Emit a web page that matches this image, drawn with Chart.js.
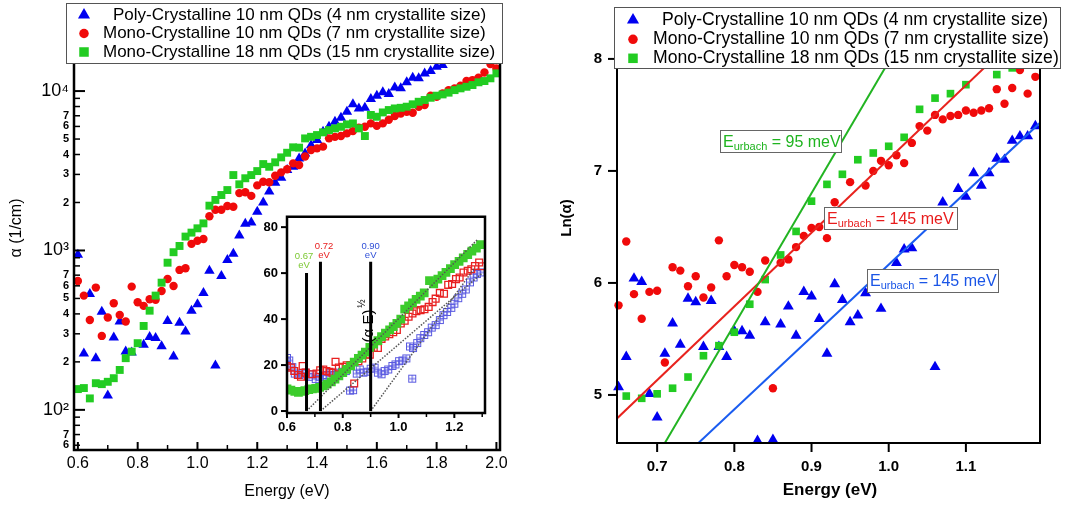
<!DOCTYPE html>
<html lang="en">
<head>
<meta charset="utf-8">
<title>Absorption edge of the QDs</title>
<script src="https://cdn.jsdelivr.net/npm/chart.js"></script>
<style>
    html, body { margin: 0; padding: 0; background: #fff; }
    #painel { position: relative; width: 1073px; height: 508px; overflow: hidden; }
    canvas { position: absolute; top: 0; }
    #graficoLog { left: 0; }
    #graficoLn { left: 540px; }
    #graficoInset { left: 240px; top: 200px; }
</style>
</head>
<body>
<div id="painel">
    <canvas id="graficoLog" width="540" height="508"></canvas>
    <canvas id="graficoLn" width="533" height="508"></canvas>
    <canvas id="graficoInset" width="255" height="250"></canvas>
</div>
<script>
const FONTE = "'Liberation Sans', Arial, Helvetica, sans-serif";

const AZUL = "#0000f0";
const VERMELHO = "#f00a0a";
const VERDE = "#22cc22";

const legendaTextos = [
    "Poly-Crystalline 10 nm QDs (4 nm crystallite size)",
    "Mono-Crystalline 10 nm QDs (7 nm crystallite size)",
    "Mono-Crystalline 18 nm QDs (15 nm crystallite size)"
];

// painel da esquerda: alfa (1/cm) em escala log
const energiaPoly = [
    0.60, 0.62, 0.64, 0.66, 0.68, 0.70, 0.72, 0.74, 0.76, 0.78,
    0.82, 0.84, 0.86, 0.88, 0.90, 0.92, 0.94, 0.96, 0.98, 1.00,
    1.02, 1.04, 1.06, 1.08, 1.10, 1.12, 1.14, 1.16, 1.18, 1.20,
    1.22, 1.24, 1.26, 1.28, 1.30, 1.32, 1.34, 1.36, 1.38, 1.40,
    1.42, 1.44, 1.46, 1.48, 1.50, 1.52, 1.54, 1.56, 1.58, 1.60,
    1.62, 1.64, 1.66, 1.68, 1.70, 1.72, 1.74, 1.76, 1.78, 1.80, 1.82
];
const alfaPoly = [
    940, 226, 533, 211, 413, 123, 284, 358, 232, 229,
    256, 286, 282, 251, 361, 216, 352, 310, 419, 460,
    540, 746, 190, 692, 871, 955, 1240, 1470, 1500, 1750,
    2000, 2340, 2660, 2860, 3200, 3350, 3780, 4060, 4580, 4930,
    5560, 5970, 6430, 6810, 7410, 8260, 7780, 7850, 8910, 9330,
    9820, 9600, 10540, 10400, 11350, 12100, 12020, 12910, 13340, 14190, 14550
];

const energiaMono = [
    0.60, 0.62, 0.64, 0.66, 0.68, 0.70, 0.72, 0.74, 0.76, 0.78,
    0.80, 0.82, 0.84, 0.86, 0.88, 0.90, 0.92, 0.94, 0.96, 0.98,
    1.00, 1.02, 1.04, 1.06, 1.08, 1.10, 1.12, 1.14, 1.16, 1.18,
    1.20, 1.22, 1.24, 1.26, 1.28, 1.30, 1.32, 1.34, 1.36, 1.38,
    1.40, 1.42, 1.44, 1.46, 1.48, 1.50, 1.52, 1.54, 1.56, 1.58,
    1.60, 1.62, 1.64, 1.66, 1.68, 1.70, 1.72, 1.74, 1.76, 1.78,
    1.80, 1.82, 1.84, 1.86, 1.88, 1.90, 1.92, 1.94, 1.96, 1.98, 2.00
];
const alfaMono10 = [
    644, 521, 366, 585, 291, 380, 467, 394, 358, 593,
    473, 449, 494, 490, 557, 662, 598, 755, 773, 1100,
    1150, 1180, 1640, 1800, 1800, 1900, 1880, 2290, 2320, 2200,
    2560, 2700, 2680, 2940, 3090, 3230, 3520, 3440, 3890, 4270,
    4370, 4480, 5050, 5160, 5220, 5430, 5610, 5890, 5970, 6270,
    6050, 6270, 6610, 6970, 7240, 7410, 7310, 7980, 8170, 9350,
    9200, 9660, 10140, 10400, 10790, 11560, 11720, 12110, 13090, 14760, 13870
];
const alfaMono18 = [
    135, 137, 118, 147, 145, 150, 158, 178, 211, 232,
    262, 336, 419, 521, 628, 838, 975, 1067, 1222, 1294,
    1377, 1479, 1910, 2075, 2228, 2393, 2972, 2600, 2838, 2972,
    3148, 3483, 3350, 3573, 3837, 4102, 4436, 4416, 5047, 5164,
    5297, 5508, 5689, 5834, 5970, 6180, 6266, 5834, 5224, 7079,
    6902, 7345, 7603, 7780, 7852, 7980, 8260, 8570, 8790, 9078,
    9354, 9528, 9772, 10139, 10399, 10641, 10914, 11350, 11561, 12023, 12912
];

const ticksAlfa = [60, 70, 80, 90, 100, 200, 300, 400, 500, 600, 700, 800, 900,
    1000, 2000, 3000, 4000, 5000, 6000, 7000, 8000, 9000, 10000];
const decadas = { 100: "10²", 1000: "10³", 10000: "10⁴" };
const ticksEnergiaEsq = [0.6, 0.8, 1.0, 1.2, 1.4, 1.6, 1.8, 2.0];
const ticksEnergiaEsqMenor = [0.7, 0.9, 1.1, 1.3, 1.5, 1.7, 1.9];

// detalhe: (alfa*E)^1/2
const insetEnergiaVerde = [
    0.600, 0.614, 0.628, 0.641, 0.653, 0.664, 0.678, 0.691, 0.703, 0.717,
    0.730, 0.744, 0.759, 0.772, 0.786, 0.800, 0.814, 0.828, 0.841, 0.856,
    0.869, 0.881, 0.897, 0.911, 0.926, 0.939, 0.953, 0.968, 0.981, 0.994,
    1.008, 1.022, 1.036, 1.050, 1.063, 1.078, 1.092, 1.111, 1.126, 1.141,
    1.156, 1.170, 1.186, 1.201, 1.217, 1.232, 1.248, 1.263, 1.279, 1.294
];
const insetVerde = [
    9.6, 9.1, 8.6, 8.1, 8.6, 8.9, 9.3, 9.6, 9.9, 10.3,
    10.9, 11.7, 12.7, 13.9, 15.3, 16.7, 18.1, 19.6, 21.3, 22.9,
    24.3, 25.6, 27.7, 29.1, 30.6, 32.4, 33.9, 35.3, 36.7, 38.1,
    40.0, 44.3, 45.7, 47.1, 48.6, 50.0, 51.4, 56.7, 55.3, 57.4,
    58.9, 60.3, 62.0, 63.7, 65.1, 66.6, 68.1, 69.6, 70.9, 72.4
];
const insetEnergiaVermelho = [
    0.600, 0.614, 0.626, 0.639, 0.650, 0.656, 0.667, 0.689, 0.706, 0.719,
    0.730, 0.741, 0.752, 0.763, 0.774, 0.786, 0.800, 0.814, 0.828, 0.841,
    0.856, 0.870, 0.883, 0.897, 0.911, 0.926, 0.939, 0.952, 0.967, 0.981,
    0.994, 1.008, 1.022, 1.036, 1.050, 1.064, 1.079, 1.093, 1.108, 1.122,
    1.133, 1.148, 1.163, 1.178, 1.192, 1.206, 1.219, 1.233, 1.248, 1.261,
    1.274, 1.289, 1.300
];
const insetVermelho = [
    19.6, 18.9, 17.4, 15.7, 14.9, 19.6, 16.7, 16.0, 16.3, 17.7,
    18.1, 17.4, 17.1, 16.7, 21.4, 18.9, 19.3, 19.9, 20.0, 12.0,
    21.7, 22.9, 24.6, 24.5, 27.4, 27.4, 31.4, 32.4, 33.4, 34.3,
    35.3, 38.1, 39.3, 41.0, 42.4, 43.4, 43.9, 44.3, 45.3, 47.4,
    48.9, 51.4, 51.0, 54.9, 55.3, 57.4, 58.1, 60.3, 61.0, 61.7,
    63.1, 64.6, 63.0
];
const insetEnergiaAzul = [
    0.600, 0.608, 0.619, 0.628, 0.644, 0.656, 0.667, 0.678, 0.692, 0.703,
    0.717, 0.728, 0.741, 0.756, 0.770, 0.783, 0.797, 0.811, 0.826, 0.837,
    0.850, 0.861, 0.874, 0.889, 0.900, 0.914, 0.926, 0.939, 0.950, 0.963,
    0.978, 0.989, 1.002, 1.014, 1.028, 1.041, 1.049, 1.052, 1.067, 1.078,
    1.092, 1.106, 1.119, 1.133, 1.148, 1.161, 1.174, 1.189, 1.200, 1.214,
    1.228, 1.241, 1.256, 1.269, 1.281, 1.294
];
const insetAzul = [
    23.1, 22.0, 19.1, 16.3, 15.7, 16.3, 16.7, 14.9, 16.0, 13.9,
    14.9, 13.9, 15.7, 16.7, 15.7, 16.7, 17.1, 17.4, 8.9, 9.1,
    16.3, 18.1, 16.7, 17.1, 18.4, 18.9, 16.7, 16.0, 17.4, 18.1,
    19.6, 20.3, 21.7, 22.0, 22.9, 28.1, 14.1, 27.4, 29.6, 31.7,
    33.1, 34.3, 36.3, 37.4, 39.6, 41.7, 43.1, 44.9, 46.7, 49.1,
    51.0, 52.9, 56.0, 58.1, 59.6, 60.3
];
const gapEnergias = [0.67, 0.72, 0.90];
const gapAlturas = [60, 65, 65];
const gapRotulos = ["0.67", "0.72", "0.90"];
const tangenteVerdeE = [0.67, 1.283];
const tangenteVerdeV = [0, 74.6];
const tangenteVermelhoE = [0.72, 1.30];
const tangenteVermelhoV = [0, 60];
const tangenteAzulE = [0.90, 1.27];
const tangenteAzulV = [0, 61.8];
const ticksInsetX = [0.6, 0.8, 1.0, 1.2];
const ticksInsetXMenor = [0.7, 0.9, 1.1, 1.3];
const ticksInsetY = [0, 20, 40, 60, 80];

// painel da direita: Ln(alfa) e ajustes de Urbach
const energiaLn = [
    0.65, 0.66, 0.67, 0.68, 0.69, 0.70, 0.71, 0.72, 0.73, 0.74,
    0.75, 0.76, 0.77, 0.78, 0.79, 0.80, 0.81, 0.82, 0.83, 0.84,
    0.85, 0.86, 0.87, 0.88, 0.89, 0.90, 0.91, 0.92, 0.93, 0.94,
    0.95, 0.96, 0.97, 0.98, 0.99, 1.00, 1.01, 1.02, 1.03, 1.04,
    1.05, 1.06, 1.07, 1.08, 1.09, 1.10, 1.11, 1.12, 1.13, 1.14,
    1.15, 1.16, 1.17, 1.18, 1.19
];
const lnPoly = [
    5.07, 5.34, 6.04, 6.01, 5.01, 4.80, 5.37, 5.64, 5.45, 5.86,
    5.83, 5.43, 5.84, 5.43, 5.34, 5.57, 5.57, 5.53, 4.59, 5.65,
    4.60, 5.63, 5.79, 5.53, 5.92, 5.88, 5.68, 5.37, 5.99, 5.85,
    5.65, 5.71, 5.91, null, 5.77, null, 6.18, 6.30, 6.31, null,
    null, 5.25, 6.72, null, 6.84, 6.77, 6.98, 6.87, 6.98, 7.11,
    7.10, 7.27, 7.31, 7.31, 7.40
];
const lnMono10 = [
    5.80, 6.37, 5.90, 5.68, 5.92, 5.93, 5.29, 6.14, 6.11, 5.97,
    6.06, 5.87, 5.96, 6.38, 6.06, 6.16, 6.14, 6.10, 5.92, 6.20,
    5.06, 6.18, 6.21, 6.32, 6.42, 6.49, 6.50, 6.40, 6.72, null,
    6.90, null, 6.87, 7.00, 7.09, 7.05, 7.14, 7.07, 7.25, 7.40,
    7.36, 7.50, 7.46, 7.49, 7.50, 7.54, 7.52, 7.54, 7.56, 7.73,
    7.60, 7.74, 7.90, 7.69, 7.84
];
const energiaLnMono18 = [
    0.66, 0.68, 0.70, 0.72, 0.74, 0.76, 0.78, 0.80, 0.82, 0.84,
    0.86, 0.88, 0.90, 0.92, 0.94, 0.96, 0.98, 1.00, 1.02, 1.04,
    1.06, 1.08, 1.10, 1.14, 1.16
];
const lnMono18 = [
    4.99, 4.97, 5.01, 5.06, 5.16, 5.35, 5.44, 5.56, 5.81, 6.03,
    6.25, 6.46, 6.73, 6.88, 6.97, 7.10, 7.16, 7.22, 7.30, 7.55,
    7.65, 7.69, 7.77, 7.86, 7.92
];
const ajusteVerdeE = [0.710, 1.02];
const ajusteVerdeLn = [4.571, 8.21];
const ajusteVermelhoE = [0.648, 1.196];
const ajusteVermelhoLn = [4.79, 8.396];
const ajusteAzulE = [0.7535, 1.196];
const ajusteAzulLn = [4.571, 7.43];
const ticksEnergiaDir = [0.7, 0.8, 0.9, 1.0, 1.1];
const ticksLn = [5, 6, 7, 8];


function pontos(xs, ys) {
    return xs
        .map((x, i) => ({ x, y: ys[i] }))
        .filter(p => p.y !== null);
}


function fixarTicks(valores) {
    return escala => {
        escala.ticks = valores.map(v => ({ value: v }));
    };
}


function desenharMarcador(ctx, forma, x, y, cor, r) {
    ctx.fillStyle = cor;
    ctx.beginPath();
    if (forma === "triangle") {
        ctx.moveTo(x, y - r);
        ctx.lineTo(x + r * 0.866, y + r * 0.5);
        ctx.lineTo(x - r * 0.866, y + r * 0.5);
        ctx.closePath();
    } else if (forma === "circle") {
        ctx.arc(x, y, r * 0.68, 0, Math.PI * 2);
    } else {
        const s = r * 0.68;
        ctx.rect(x - s, y - s, 2 * s, 2 * s);
    }
    ctx.fill();
}


function criarQuadradoCruz(cor) {
    const c = document.createElement("canvas");
    c.width = 10;
    c.height = 10;
    const g = c.getContext("2d");
    g.strokeStyle = cor;
    g.lineWidth = 1;
    g.strokeRect(1.5, 1.5, 7, 7);
    g.beginPath();
    g.moveTo(5, 1.5);
    g.lineTo(5, 8.5);
    g.moveTo(1.5, 5);
    g.lineTo(8.5, 5);
    g.stroke();
    return c;
}


// marcas dos eixos e moldura (sem a borda de cima)
const marcasPlugin = {
    id: "marcas",
    afterDraw(chart, args, o) {
        const { ctx, chartArea: area, scales } = chart;
        const sinal = o.dentro ? -1 : 1;
        ctx.save();
        ctx.strokeStyle = "#000";
        ctx.lineCap = "butt";
        (o.x || []).forEach(grupo => {
            ctx.lineWidth = grupo.largura;
            grupo.valores.forEach(v => {
                const px = scales.x.getPixelForValue(v);
                ctx.beginPath();
                ctx.moveTo(px, area.bottom);
                ctx.lineTo(px, area.bottom + sinal * grupo.comprimento);
                ctx.stroke();
            });
        });
        (o.y || []).forEach(grupo => {
            ctx.lineWidth = grupo.largura;
            grupo.valores.forEach(v => {
                const py = scales.y.getPixelForValue(v);
                ctx.beginPath();
                ctx.moveTo(area.left, py);
                ctx.lineTo(area.left - sinal * grupo.comprimento, py);
                ctx.stroke();
            });
        });
        ctx.lineWidth = o.moldura;
        ctx.beginPath();
        if (o.topo) {
            ctx.rect(area.left, area.top, area.right - area.left, area.bottom - area.top);
        } else {
            ctx.moveTo(area.left, area.top - 30);
            ctx.lineTo(area.left, area.bottom);
            ctx.lineTo(area.right, area.bottom);
            ctx.lineTo(area.right, area.top - 30);
        }
        ctx.stroke();
        ctx.restore();
    }
};


const urbachPlugin = {
    id: "urbach",
    afterDraw(chart, args, o) {
        const ctx = chart.ctx;
        (o.caixas || []).forEach(c => {
            ctx.save();
            ctx.fillStyle = "#fff";
            ctx.fillRect(c.x, c.y, c.largura, c.altura);
            ctx.strokeStyle = "#666";
            ctx.lineWidth = 1;
            ctx.strokeRect(c.x + 0.5, c.y + 0.5, c.largura, c.altura);
            ctx.fillStyle = c.cor;
            ctx.textBaseline = "alphabetic";
            const base = c.y + 17;
            let x = c.x + 3;
            ctx.font = `16px ${FONTE}`;
            ctx.fillText("E", x, base);
            x += ctx.measureText("E").width;
            ctx.font = `11px ${FONTE}`;
            ctx.fillText("urbach", x, base + 3);
            x += ctx.measureText("urbach").width;
            ctx.font = `16px ${FONTE}`;
            ctx.fillText(c.texto, x, base);
            ctx.restore();
        });
    }
};


const legendaPlugin = {
    id: "legendaCaixa",
    afterDraw(chart, args, o) {
        const ctx = chart.ctx;
        ctx.save();
        ctx.fillStyle = "#fff";
        ctx.fillRect(o.x, o.y, o.largura, o.altura);
        ctx.strokeStyle = "#555";
        ctx.lineWidth = 1;
        ctx.strokeRect(o.x + 0.5, o.y + 0.5, o.largura, o.altura);
        ctx.font = o.fonte;
        ctx.textBaseline = "middle";
        const formas = ["triangle", "circle", "rect"];
        const cores = [AZUL, VERMELHO, VERDE];
        legendaTextos.forEach((texto, i) => {
            const y = o.linhas[i];
            desenharMarcador(ctx, formas[i], o.xMarcador, y, cores[i], o.marcador);
            ctx.fillStyle = "#000";
            ctx.fillText(texto, o.xTexto[i], y);
        });
        ctx.restore();
    }
};


const titulosPlugin = {
    id: "titulos",
    afterDraw(chart, args, o) {
        const ctx = chart.ctx;
        (o.itens || []).forEach(t => {
            ctx.save();
            ctx.translate(t.x, t.y);
            if (t.girar) {
                ctx.rotate(-Math.PI / 2);
            }
            ctx.font = t.fonte;
            ctx.fillStyle = "#000";
            ctx.textAlign = "center";
            ctx.textBaseline = "middle";
            ctx.fillText(t.texto, 0, 0);
            ctx.restore();
        });
    }
};


// rótulos dentro do detalhe (gaps e título do eixo)
const rotulosInsetPlugin = {
    id: "rotulosInset",
    beforeDatasetsDraw(chart) {
        const { ctx, chartArea: a } = chart;
        ctx.save();
        ctx.fillStyle = "#fff";
        ctx.fillRect(a.left, a.top, a.right - a.left, a.bottom - a.top);
        ctx.restore();
    },
    afterDraw(chart, args, o) {
        const { ctx, scales } = chart;
        ctx.save();
        ctx.font = `9.5px ${FONTE}`;
        ctx.textAlign = "center";
        ctx.textBaseline = "middle";
        o.gaps.forEach((g, i) => {
            const x = scales.x.getPixelForValue(g.e);
            ctx.fillStyle = g.cor;
            ctx.fillText(gapRotulos[i], x, scales.y.getPixelForValue(g.v));
            ctx.fillText("eV", x, scales.y.getPixelForValue(g.v) + 9);
        });

        const x = scales.x.getPixelForValue(0.894);
        const y = scales.y.getPixelForValue(37);
        ctx.translate(x, y);
        ctx.rotate(-Math.PI / 2);
        ctx.fillStyle = "#000";
        ctx.font = `15px ${FONTE}`;
        ctx.fillText("(α E)", 0, 0);
        const w = ctx.measureText("(α E)").width;
        ctx.font = `10px ${FONTE}`;
        ctx.fillText("½", w / 2 + 6, -7);
        ctx.restore();
    }
};


function carregarGraficoLog() {
    const ctx = document.getElementById("graficoLog").getContext("2d");

    new Chart(ctx, {
        type: "scatter",
        data: {
            datasets: [
                {
                    data: pontos(energiaMono, alfaMono18),
                    pointStyle: "rect",
                    pointRadius: 5.6,
                    pointBackgroundColor: VERDE,
                    pointBorderWidth: 0
                },
                {
                    data: pontos(energiaMono, alfaMono10),
                    pointStyle: "circle",
                    pointRadius: 4.2,
                    pointBackgroundColor: VERMELHO,
                    pointBorderWidth: 0
                },
                {
                    data: pontos(energiaPoly, alfaPoly),
                    pointStyle: "triangle",
                    pointRadius: 6,
                    pointBackgroundColor: AZUL,
                    pointBorderWidth: 0
                }
            ]
        },
        options: {
            responsive: false,
            animation: false,
            devicePixelRatio: 1,
            layout: { padding: { left: 0, right: 40, top: 63, bottom: 0 } },
            plugins: {
                legend: { display: false },
                tooltip: { enabled: false },
                marcas: {
                    dentro: true,
                    moldura: 2.5,
                    topo: false,
                    x: [
                        { valores: ticksEnergiaEsq, comprimento: 8, largura: 2 },
                        { valores: ticksEnergiaEsqMenor, comprimento: 5, largura: 1.5 }
                    ],
                    y: [
                        { valores: [100, 1000, 10000], comprimento: 11, largura: 2 },
                        { valores: ticksAlfa.filter(v => !decadas[v]), comprimento: 6, largura: 1.5 }
                    ]
                },
                legendaCaixa: {
                    x: 66, y: 3, largura: 436, altura: 60,
                    fonte: `17px ${FONTE}`,
                    linhas: [15, 33.5, 52],
                    xMarcador: 84,
                    marcador: 7,
                    xTexto: [113, 103, 103]
                },
                titulos: {
                    itens: [
                        { texto: "Energy (eV)", x: 287, y: 492, fonte: `16px ${FONTE}` },
                        { texto: "α (1/cm)", x: 17, y: 228, girar: true, fonte: `16px ${FONTE}` }
                    ]
                }
            },
            scales: {
                x: {
                    type: "linear",
                    min: 0.587,
                    max: 2.012,
                    afterFit: escala => { escala.height = 58; },
                    afterBuildTicks: fixarTicks(ticksEnergiaEsq),
                    grid: { display: false, drawTicks: false },
                    border: { display: false },
                    ticks: {
                        autoSkip: false,
                        maxRotation: 0,
                        padding: 4,
                        color: "#000",
                        font: { family: FONTE, size: 16 },
                        callback: v => Number(v).toFixed(1)
                    }
                },
                y: {
                    type: "logarithmic",
                    min: 56,
                    max: 15000,
                    afterFit: escala => { escala.width = 74; },
                    afterBuildTicks: fixarTicks(ticksAlfa),
                    grid: { display: false, drawTicks: false },
                    border: { display: false },
                    ticks: {
                        autoSkip: false,
                        padding: 5,
                        color: "#000",
                        font: c => (c.tick && decadas[c.tick.value]
                            ? { family: FONTE, size: 18 }
                            : { family: FONTE, size: 11, weight: "bold" }),
                        callback: v => {
                            if (decadas[v]) {
                                return decadas[v];
                            }
                            const d = Math.round(v / Math.pow(10, Math.floor(Math.log10(v) + 1e-9)));
                            return d <= 7 ? String(d) : "";
                        }
                    }
                }
            }
        },
        plugins: [marcasPlugin, legendaPlugin, titulosPlugin]
    });
}


function carregarInset() {
    const ctx = document.getElementById("graficoInset").getContext("2d");
    const linhaPreta = (e, altura) => ({
        data: [{ x: e, y: 0 }, { x: e, y: altura }],
        showLine: true,
        borderColor: "#000",
        borderWidth: 3,
        pointRadius: 0
    });
    const pontilhada = (es, vs) => ({
        data: pontos(es, vs),
        showLine: true,
        borderColor: "#555",
        borderWidth: 1.5,
        borderDash: [1.5, 1.5],
        pointRadius: 0
    });

    new Chart(ctx, {
        type: "scatter",
        data: {
            datasets: [
                ...gapEnergias.map((e, i) => linhaPreta(e, gapAlturas[i])),
                pontilhada(tangenteVerdeE, tangenteVerdeV),
                pontilhada(tangenteVermelhoE, tangenteVermelhoV),
                pontilhada(tangenteAzulE, tangenteAzulV),
                {
                    data: pontos(insetEnergiaVerde, insetVerde),
                    pointStyle: "rect",
                    pointRadius: 6.2,
                    pointBackgroundColor: "#3ccc2c",
                    pointBorderWidth: 0
                },
                {
                    data: pontos(insetEnergiaVermelho, insetVermelho),
                    pointStyle: "rect",
                    pointRadius: 4.8,
                    pointBackgroundColor: "rgba(0,0,0,0)",
                    pointBorderColor: "#e82020",
                    pointBorderWidth: 1.3
                },
                {
                    data: pontos(insetEnergiaAzul, insetAzul),
                    pointStyle: criarQuadradoCruz("#5a5ae0"),
                    pointRadius: 5
                }
            ]
        },
        options: {
            responsive: false,
            animation: false,
            devicePixelRatio: 1,
            layout: { padding: { left: 0, right: 10, top: 12, bottom: 0 } },
            plugins: {
                legend: { display: false },
                tooltip: { enabled: false },
                marcas: {
                    dentro: false,
                    moldura: 2.5,
                    topo: true,
                    x: [
                        { valores: ticksInsetX, comprimento: 5, largura: 2 },
                        { valores: ticksInsetXMenor, comprimento: 4, largura: 1.5 }
                    ],
                    y: [
                        { valores: ticksInsetY, comprimento: 6, largura: 2 }
                    ]
                },
                rotulosInset: {
                    gaps: [
                        { e: 0.661, v: 67.4, cor: "#7cc832" },
                        { e: 0.733, v: 71.7, cor: "#e82020" },
                        { e: 0.900, v: 71.7, cor: "#3050d8" }
                    ]
                }
            },
            scales: {
                x: {
                    type: "linear",
                    min: 0.6,
                    max: 1.31,
                    afterFit: escala => { escala.height = 37; },
                    afterBuildTicks: fixarTicks(ticksInsetX),
                    grid: { display: false, drawTicks: false },
                    border: { display: false },
                    ticks: {
                        autoSkip: false,
                        maxRotation: 0,
                        padding: 7,
                        color: "#000",
                        font: { family: FONTE, size: 13, weight: "bold" },
                        callback: v => Number(v).toFixed(1)
                    }
                },
                y: {
                    type: "linear",
                    min: -0.85,
                    max: 84.5,
                    afterFit: escala => { escala.width = 47; },
                    afterBuildTicks: fixarTicks(ticksInsetY),
                    grid: { display: false, drawTicks: false },
                    border: { display: false },
                    ticks: {
                        autoSkip: false,
                        padding: 9,
                        color: "#000",
                        font: { family: FONTE, size: 13, weight: "bold" }
                    }
                }
            }
        },
        plugins: [rotulosInsetPlugin, marcasPlugin]
    });
}


function carregarGraficoLn() {
    const ctx = document.getElementById("graficoLn").getContext("2d");
    const ajuste = (es, lns, cor) => ({
        data: pontos(es, lns),
        showLine: true,
        borderColor: cor,
        borderWidth: 2,
        pointRadius: 0
    });

    new Chart(ctx, {
        type: "scatter",
        data: {
            datasets: [
                ajuste(ajusteVerdeE, ajusteVerdeLn, "#22b422"),
                ajuste(ajusteVermelhoE, ajusteVermelhoLn, "#e8231e"),
                ajuste(ajusteAzulE, ajusteAzulLn, "#1a5cf0"),
                {
                    data: pontos(energiaLnMono18, lnMono18),
                    pointStyle: "rect",
                    pointRadius: 5.4,
                    pointBackgroundColor: VERDE,
                    pointBorderWidth: 0,
                    clip: false
                },
                {
                    data: pontos(energiaLn, lnMono10),
                    pointStyle: "circle",
                    pointRadius: 4.2,
                    pointBackgroundColor: VERMELHO,
                    pointBorderWidth: 0,
                    clip: false
                },
                {
                    data: pontos(energiaLn, lnPoly),
                    pointStyle: "triangle",
                    pointRadius: 6.3,
                    pointBackgroundColor: AZUL,
                    pointBorderWidth: 0,
                    clip: false
                }
            ]
        },
        options: {
            responsive: false,
            animation: false,
            devicePixelRatio: 1,
            layout: { padding: { left: 0, right: 33, top: 42, bottom: 0 } },
            plugins: {
                legend: { display: false },
                tooltip: { enabled: false },
                marcas: {
                    dentro: false,
                    moldura: 2,
                    topo: false,
                    x: [{ valores: ticksEnergiaDir, comprimento: 9, largura: 2 }],
                    y: [{ valores: ticksLn, comprimento: 9, largura: 2 }]
                },
                urbach: {
                    caixas: [
                        { texto: " = 95 meV", x: 180, y: 130, largura: 121, altura: 22, cor: "#1fb41f" },
                        { texto: " = 145 meV", x: 284, y: 207, largura: 133, altura: 22, cor: "#e81c1c" },
                        { texto: " = 145 meV", x: 327, y: 269, largura: 131, altura: 23, cor: "#1a55e6" }
                    ]
                },
                legendaCaixa: {
                    x: 74, y: 7, largura: 446, altura: 61,
                    fonte: `17.6px ${FONTE}`,
                    linhas: [20, 39.3, 58.3],
                    xMarcador: 93,
                    marcador: 7,
                    xTexto: [122, 113, 113]
                },
                titulos: {
                    itens: [
                        { texto: "Energy (eV)", x: 290, y: 490, fonte: `bold 17px ${FONTE}` },
                        { texto: "Ln(α)", x: 27, y: 218, girar: true, fonte: `bold 15px ${FONTE}` }
                    ]
                }
            },
            scales: {
                x: {
                    type: "linear",
                    min: 0.648,
                    max: 1.196,
                    afterFit: escala => { escala.height = 65; },
                    afterBuildTicks: fixarTicks(ticksEnergiaDir),
                    grid: { display: false, drawTicks: false },
                    border: { display: false },
                    ticks: {
                        autoSkip: false,
                        maxRotation: 0,
                        padding: 15,
                        color: "#000",
                        font: { family: FONTE, size: 15, weight: "bold" },
                        callback: v => Number(v).toFixed(1)
                    }
                },
                y: {
                    type: "linear",
                    min: 4.571,
                    max: 8.151,
                    afterFit: escala => { escala.width = 77; },
                    afterBuildTicks: fixarTicks(ticksLn),
                    grid: { display: false, drawTicks: false },
                    border: { display: false },
                    ticks: {
                        autoSkip: false,
                        padding: 15,
                        color: "#000",
                        font: { family: FONTE, size: 15, weight: "bold" }
                    }
                }
            }
        },
        plugins: [marcasPlugin, urbachPlugin, legendaPlugin, titulosPlugin]
    });
}


document.addEventListener("DOMContentLoaded", () => {
    carregarGraficoLog();
    carregarGraficoLn();
    carregarInset();
});
</script>
</body>
</html>
